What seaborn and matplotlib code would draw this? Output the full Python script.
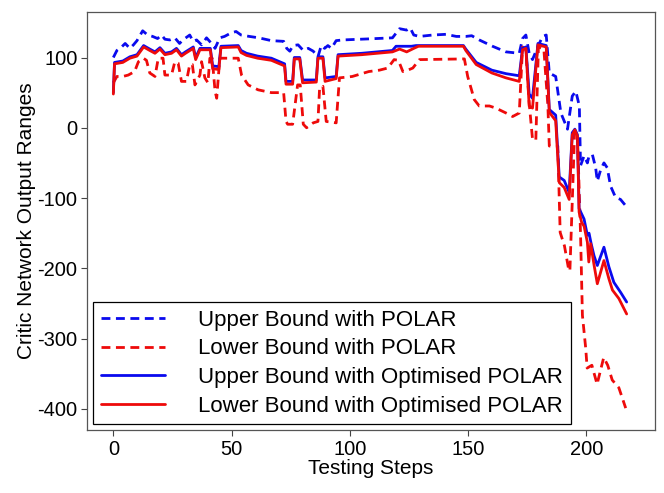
import numpy as np
import pandas as pd
import matplotlib
matplotlib.use("Agg")
import matplotlib.pyplot as plt
import seaborn as sns

# Values (testing step, network output bound)
x_upper_polar = [0, 1.5, 3.5, 5, 7, 8.5, 10, 12.4, 14.5, 16.6, 18.7, 20.4, 21.8, 23.9, 26, 28, 29.4,
                 32.3, 33.7, 35.2, 37.3, 39.4, 41.5, 43, 45, 47, 49.8, 51.9, 54, 57.5, 61.5, 66.8,
                 72, 73.3, 74.6, 76, 78.1, 80.3, 82.4, 84.5, 86.5, 87.9, 89.3, 90.7, 92.2, 94.2, 97,
                 108, 118, 121, 124, 125.5, 127, 129.4, 135, 140.6, 145, 149, 151.5, 154.7, 160.3,
                 166, 171.6, 173, 174.4, 175.8, 177.2, 179.5, 181.5, 183, 184.3, 187, 189.2, 192,
                 194, 195.5, 197, 197.5, 199, 200.4, 201.1, 202.5, 203.9, 204.6, 206, 207.4, 208.8,
                 210.2, 212.3, 214.4, 216.6]
y_upper_polar = [100, 110, 115, 120, 113, 118, 124, 138, 132, 130, 127, 132, 126, 125, 128, 120, 125,
                 132, 123, 125, 118, 128, 120, 113, 128, 130, 135, 137, 132, 130, 128, 124,
                 123, 113, 109, 117, 118, 110, 113, 109, 101, 117, 113, 117, 113, 124, 125,
                 126.5, 128, 141, 139, 142, 132, 130, 132, 133, 130, 130, 131, 125, 116,
                 108, 106, 127, 132, 106, 97, 116, 130, 132, 78, 73, 21, -2,
                 45, 52, 31, -54, -40, -50, -40, -38, -57, -76, -60, -50, -57,
                 -83, -99, -102, -111]

x_lower_polar = [0, 1.5, 4, 6.3, 9, 10.6, 12.7, 14, 15.4, 17.6, 19, 21, 21.8, 24.6, 26, 27.4, 28.8,
                 30.9, 32.3, 33.4, 34.5, 36.6, 37.3, 38.7, 40, 40.8, 41.8, 43, 43.7, 45, 52.8, 54.2,
                 57, 61.2, 66.8, 72, 73, 73.7, 75.8, 77.9, 79, 80.3, 81.7, 84.5, 86.5, 87.2, 88.6,
                 90, 94.2, 95.6, 101, 108, 112.5, 116, 118.7, 120.5, 122.4, 124.5, 126.6, 129.4,
                 148.4, 149.8, 152.6, 154.7, 159, 161.7, 166, 168.8, 171.6, 173, 174.4, 175.8,
                 177.2, 178.6, 179.7, 182, 183.7, 184.3, 187.9, 188.9, 190.7, 192.4, 193, 194, 195,
                 196.2, 197.5, 198.3, 199.7, 200.3, 202.3, 204.5, 207.3, 209, 210.9, 213.7, 216.6]
y_lower_polar = [64, 73, 73, 75, 80, 94, 99, 96, 78, 73, 99, 99, 75, 75, 94, 92, 66,
                 66, 90, 90, 61, 75, 94, 71, 64, 99, 99, 52, 42, 99, 99, 75,
                 61, 54, 50, 50, 9, 5, 5, 61, 61, 5, 0, 7, 9, 57, 59,
                 9, 7, 71, 73, 80, 82, 85, 97, 96, 80, 82, 85, 97,
                 98, 73, 40, 31, 31, 28, 21, 16, 21, 115, 112, 35,
                 -16, -18, 115, 112, 31, -26, -26, -149, -168, -200, -204, -106, -5,
                 -10, -150, -267, -314, -342, -338, -365, -327, -338, -359, -370, -399]

x_upper_opt = [0, 0.5, 4, 7, 10, 12.8, 15.4, 17.6, 19.7, 21.8, 24.6, 26.7, 28.8, 30.5, 33.8, 34.8,
               36.6, 41, 42, 44.6, 45.5, 52.8, 54, 56.3, 61, 66.8, 72.4, 73, 75.8, 76.5, 78.8, 80,
               85.8, 86.5, 88.6, 89.5, 94.2, 95, 105, 118, 119.5, 126, 128, 148, 149, 153.4, 160,
               166, 171.6, 173, 174.4, 175.8, 177.2, 179.5, 183, 184.3, 187, 188.5, 190.6, 192.7,
               194, 195.1, 196.2, 196.9, 199, 200.4, 201.1, 202, 203.2, 204.6, 207.4, 209.5,
               211.6, 214.4, 217]
y_upper_opt = [50, 93, 95, 101, 104, 117, 112, 108, 114, 106, 108, 113, 104, 108, 115, 100,
               113, 113, 88, 87, 116, 117, 110, 106, 102, 99, 91, 66, 66, 100, 100, 68,
               68, 101, 101, 71, 73, 104, 106, 110, 116, 116, 117, 117, 112, 93, 82,
               77, 74, 113, 115, 48, 42, 120, 117, 26, 18, -70, -75, -92,
               -7, -2, -10, -115, -130, -153, -150, -165, -182, -196, -170, -198,
               -220, -234, -248]

x_lower_opt = [0, 0.5, 4, 7, 10, 12.8, 15.4, 17.6, 19.7, 21.8, 24.6, 26.7, 28.8, 30.5, 33.8, 34.8,
               36.6, 41, 42, 44.6, 45.5, 52.8, 54, 56.3, 61, 66.8, 72.4, 73, 75.8, 76.5, 78.8, 80,
               85.8, 86.5, 88.6, 89.5, 94.2, 95, 105, 118, 121, 124, 127, 129, 148, 149, 153.4,
               160, 166, 171.6, 173, 174.4, 175.8, 177.2, 179.5, 183, 184.3, 187, 188.5, 190.6,
               192.7, 194, 195.1, 196.2, 196.9, 198, 199, 200.4, 201, 201.8, 203.2, 204.6, 207.4,
               209.5, 211, 213.7, 217]
y_lower_opt = [48, 91, 93, 99, 102, 115, 110, 106, 112, 104, 106, 111, 102, 106, 113, 97,
               111, 111, 84, 83, 114, 115, 107, 103, 99, 96, 88, 62, 62, 98, 98, 64,
               65, 99, 99, 66, 70, 102, 104, 108, 112, 108, 113, 116, 116, 110, 90,
               78, 71, 66, 111, 113, 31, 28, 118, 115, 22, 10, -78, -85,
               -102, -10, -3, -12, -120, -135, -140, -163, -191, -165, -195, -222, -189,
               -215, -231, -243, -265]

series_labels = ["Upper Bound with POLAR", "Lower Bound with POLAR",
                 "Upper Bound with Optimised POLAR", "Lower Bound with Optimised POLAR"]

sns.set_theme(style="ticks")
plt.rcParams["font.family"] = ["Liberation Sans", "DejaVu Sans"]
plt.rcParams["axes.unicode_minus"] = False
plt.rcParams["text.color"] = "black"
plt.rcParams["axes.labelcolor"] = "black"
plt.rcParams["xtick.color"] = "black"
plt.rcParams["ytick.color"] = "black"

fig = plt.figure(figsize=(6.64, 4.93), dpi=100)
ax = fig.add_axes([0.1315, 0.128, 0.855, 0.848])

blue, red = "#0a0aee", "#ee0a0a"
dash = (0, (3.2, 2.0))
sns.lineplot(x=x_upper_polar, y=y_upper_polar, ax=ax, color=blue, lw=2, linestyle=dash,
             estimator=None, sort=False, label=series_labels[0])
sns.lineplot(x=x_lower_polar, y=y_lower_polar, ax=ax, color=red, lw=2, linestyle=dash,
             estimator=None, sort=False, label=series_labels[1])
sns.lineplot(x=x_upper_opt, y=y_upper_opt, ax=ax, color=blue, lw=2,
             estimator=None, sort=False, label=series_labels[2])
sns.lineplot(x=x_lower_opt, y=y_lower_opt, ax=ax, color=red, lw=2,
             estimator=None, sort=False, label=series_labels[3])

ax.set_xlim(-11, 229)
ax.set_ylim(-430, 165)
ax.set_xticks([0, 50, 100, 150, 200])
ax.set_yticks([100, 0, -100, -200, -300, -400])
ax.tick_params(axis="both", labelsize=14.5, length=4, width=0.8, color="#444444", direction="out",
               pad=3)
ax.tick_params(axis="both", labelcolor="black")
for s in ax.spines.values():
    s.set_color("#555555")
    s.set_linewidth(0.9)
ax.set_xlabel("Testing Steps", fontsize=15, labelpad=0)
ax.set_ylabel("Critic Network Output Ranges", fontsize=15, labelpad=1)

leg = ax.legend(loc="lower left", fontsize=16, handlelength=2.9, labelspacing=0.34,
                borderaxespad=0.25, frameon=True, fancybox=False, borderpad=0.35,
                handletextpad=1.5)
leg.get_frame().set_edgecolor("black")
leg.get_frame().set_linewidth(0.9)
leg.get_frame().set_alpha(1)

fig.savefig("out.png", dpi=100)
